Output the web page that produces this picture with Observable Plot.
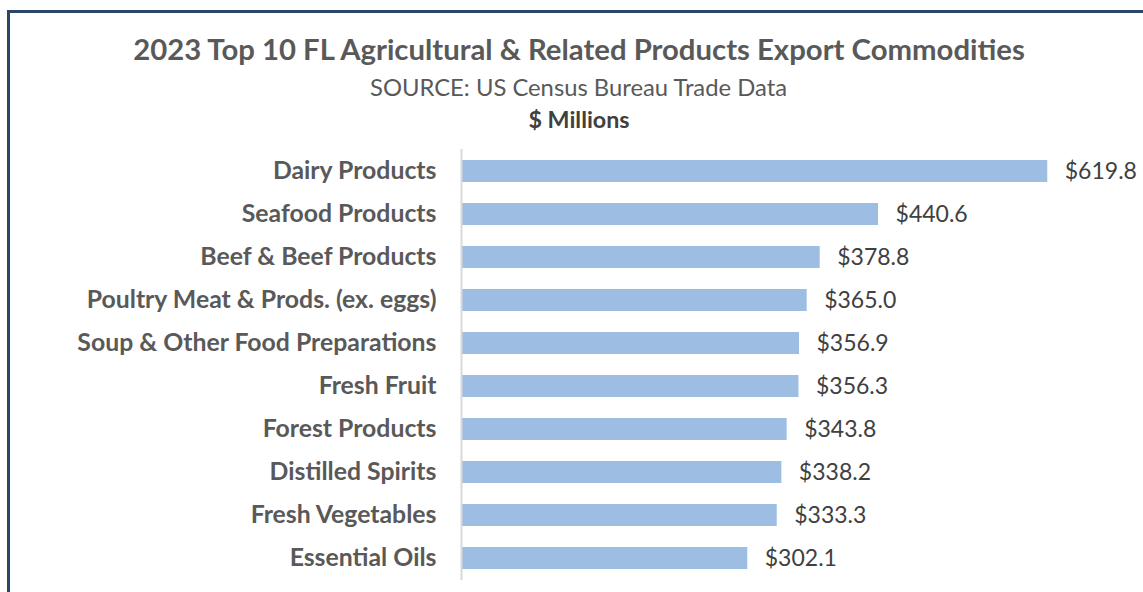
<!DOCTYPE html>
<html>
<head>
<meta charset="utf-8">
<script src="https://cdn.jsdelivr.net/npm/d3@7"></script>
<script src="https://cdn.jsdelivr.net/npm/@observablehq/plot@0.6"></script>
<style>
  html, body { margin: 0; padding: 0; background: #fff; }
  body { width: 1143px; height: 592px; overflow: hidden; position: relative; font-family: Lato, "Open Sans", sans-serif; }
  #frame { position: absolute; left: 7px; top: 10px; width: 1300px; height: 800px;
           border-left: 3px solid #2b4669; border-top: 3px solid #2b4669; box-sizing: border-box; }
  #head { position: relative; height: 135px; width: 1143px; }
  .line { position: absolute; white-space: nowrap; transform: translateX(-50%); line-height: 1.2; }
  #title { left: 579px; top: 31px; font-size: 29.3px; font-weight: 700; color: #595959; }
  #subtitle { left: 578.5px; top: 72.5px; font-size: 23.8px; font-weight: 400; color: #595959; }
  #unit { left: 579px; top: 105.5px; font-size: 23.3px; font-weight: 700; color: #404040; }
  #chart { position: relative; }
</style>
</head>
<body>
<div id="frame"></div>
<div id="head">
  <div class="line" id="title">2023 Top 10 FL Agricultural &amp; Related Products Export Commodities</div>
  <div class="line" id="subtitle">SOURCE: US Census Bureau Trade Data</div>
  <div class="line" id="unit">$ Millions</div>
</div>
<div id="chart"></div>
<script>
const categories = [
  "Dairy Products",
  "Seafood Products",
  "Beef & Beef Products",
  "Poultry Meat & Prods. (ex. eggs)",
  "Soup & Other Food Preparations",
  "Fresh Fruit",
  "Forest Products",
  "Distilled Spirits",
  "Fresh Vegetables",
  "Essential Oils"
];
const values = [619.8, 440.6, 378.8, 365.0, 356.9, 356.3, 343.8, 338.2, 333.3, 302.1];
const valueLabels = ["$619.8", "$440.6", "$378.8", "$365.0", "$356.9", "$356.3", "$343.8", "$338.2", "$333.3", "$302.1"];

const data = categories.map((c, i) => ({category: c, value: values[i], label: valueLabels[i]}));

const chart = Plot.plot({
  width: 1143,
  height: 457,
  marginTop: 14,
  marginBottom: 12,
  marginLeft: 462,
  marginRight: 20,
  style: {fontFamily: "Lato, 'Open Sans', sans-serif", background: "transparent"},
  x: {domain: [0, 700], axis: null},
  y: {domain: categories, paddingInner: 0.5, paddingOuter: 0.25, axis: null},
  marks: [
    Plot.barX(data, {x: "value", y: "category", fill: "#9dbde3"}),
    Plot.ruleX([0], {stroke: "#d9d9d9", strokeWidth: 2, dx: -1}),
    Plot.axisY({tickSize: 0, tickPadding: 26, fontSize: 24.8, fontWeight: "bold", color: "#595959", label: null}),
    Plot.text(data, {x: "value", y: "category", text: "label", dx: 17, textAnchor: "start", fontSize: 23, fill: "#404040"})
  ]
});
document.getElementById("chart").appendChild(chart);
</script>
</body>
</html>
